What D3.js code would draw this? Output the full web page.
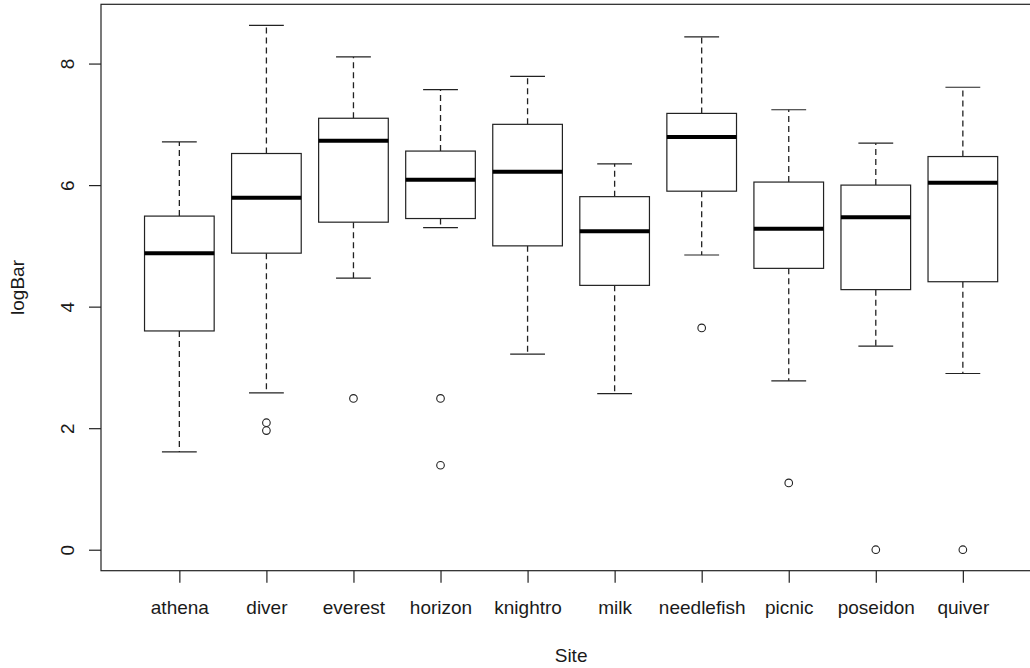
<!DOCTYPE html>
<html>
<head>
<meta charset="utf-8">
<script src="https://cdn.jsdelivr.net/npm/d3@7/dist/d3.min.js"></script>
<style>
  html, body { margin: 0; padding: 0; background: #fff; }
  svg { display: block; }
  text { font-family: "Liberation Sans", Arial, sans-serif; fill: #1a1a1a; }
</style>
</head>
<body>
<script>
// ---- data ----
const sites = ["athena","diver","everest","horizon","knightro","milk","needlefish","picnic","poseidon","quiver"];
const whiskerLow  = [1.61, 2.58, 4.47, 5.30, 3.22, 2.57, 4.85, 2.78, 3.35, 2.90];
const q1          = [3.60, 4.88, 5.39, 5.45, 5.00, 4.35, 5.90, 4.63, 4.28, 4.41];
const medians     = [4.88, 5.79, 6.73, 6.09, 6.22, 5.24, 6.79, 5.28, 5.47, 6.04];
const q3          = [5.49, 6.52, 7.10, 6.56, 7.00, 5.81, 7.18, 6.05, 6.00, 6.47];
const whiskerHigh = [6.71, 8.63, 8.11, 7.57, 7.79, 6.35, 8.44, 7.24, 6.69, 7.61];
const outliers    = [[], [2.09, 1.96], [2.49], [2.49, 1.39], [], [], [3.65], [1.10], [0], [0]];
const yTicks = [0, 2, 4, 6, 8];
const xTitle = "Site";
const yTitle = "logBar";

// ---- layout ----
const W = 1030, H = 668;
const svg = d3.select("body").append("svg").attr("width", W).attr("height", H);

const x = d3.scaleLinear().domain([0.1, 10.9]).range([101, 1041.2]);
const y = d3.scaleLinear().domain([-0.3452, 8.9752]).range([570.7, 4.3]);
const boxW = x(1.4) - x(1);      // half box width
const capW = boxW / 2;

// frame
svg.append("rect")
  .attr("x", x(0.1)).attr("y", y(8.9752))
  .attr("width", x(10.9) - x(0.1)).attr("height", y(-0.3452) - y(8.9752))
  .attr("fill", "none").attr("stroke", "#222").attr("stroke-width", 1.2);

// y axis
const yAxis = d3.axisLeft(y).tickValues(yTicks).tickSize(12).tickPadding(0).tickFormat(d3.format("d"));
const gy = svg.append("g").attr("transform", `translate(${x(0.1)},0)`).call(yAxis);
gy.select(".domain").remove();
gy.selectAll(".tick line").attr("stroke", "#222").attr("stroke-width", 1.2);
gy.selectAll(".tick text")
  .attr("x", 0).attr("dy", 0)
  .attr("transform", "translate(-27,0) rotate(-90)")
  .attr("text-anchor", "middle")
  .style("font-size", "19px").style("font-family", "Liberation Sans, Arial, sans-serif").attr("fill", "#1a1a1a");

// x axis
const xAxis = d3.axisBottom(x).tickValues(d3.range(1, sites.length + 1)).tickSize(12).tickPadding(0)
  .tickFormat((d) => sites[d - 1]);
const gx = svg.append("g").attr("transform", `translate(0,${y(-0.3452)})`).call(xAxis);
gx.select(".domain").remove();
gx.selectAll(".tick line").attr("stroke", "#222").attr("stroke-width", 1.2);
gx.selectAll(".tick text").attr("y", 43).attr("dy", 0)
  .style("font-size", "19px").style("font-family", "Liberation Sans, Arial, sans-serif").attr("fill", "#1a1a1a");

// titles
svg.append("text").attr("x", (x(0.1) + x(10.9)) / 2).attr("y", 662)
  .attr("text-anchor", "middle").style("font-size", "19px").text(xTitle);
svg.append("text").attr("transform", `translate(24,${(y(-0.3452) + y(8.9752)) / 2}) rotate(-90)`)
  .attr("text-anchor", "middle").style("font-size", "19px").text(yTitle);

// boxes
const data = sites.map((s, i) => ({
  s, i: i + 1, lo: whiskerLow[i], q1: q1[i], med: medians[i], q3: q3[i], hi: whiskerHigh[i], out: outliers[i]
}));

const g = svg.append("g");
const b = g.selectAll("g.box").data(data).enter().append("g").attr("class", "box");

// whiskers (dashed)
b.append("line").attr("x1", d => x(d.i)).attr("x2", d => x(d.i))
  .attr("y1", d => y(d.q3)).attr("y2", d => y(d.hi))
  .attr("stroke", "#222").attr("stroke-width", 1.3).attr("stroke-dasharray", "6,4");
b.append("line").attr("x1", d => x(d.i)).attr("x2", d => x(d.i))
  .attr("y1", d => y(d.q1)).attr("y2", d => y(d.lo))
  .attr("stroke", "#222").attr("stroke-width", 1.3).attr("stroke-dasharray", "6,4");
// caps
b.append("line").attr("x1", d => x(d.i) - capW).attr("x2", d => x(d.i) + capW)
  .attr("y1", d => y(d.hi)).attr("y2", d => y(d.hi))
  .attr("stroke", "#222").attr("stroke-width", 1.2);
b.append("line").attr("x1", d => x(d.i) - capW).attr("x2", d => x(d.i) + capW)
  .attr("y1", d => y(d.lo)).attr("y2", d => y(d.lo))
  .attr("stroke", "#222").attr("stroke-width", 1.2);
// box
b.append("rect").attr("x", d => x(d.i) - boxW).attr("width", 2 * boxW)
  .attr("y", d => y(d.q3)).attr("height", d => y(d.q1) - y(d.q3))
  .attr("fill", "#fff").attr("stroke", "#222").attr("stroke-width", 1.2);
// median
b.append("line").attr("x1", d => x(d.i) - boxW).attr("x2", d => x(d.i) + boxW)
  .attr("y1", d => y(d.med)).attr("y2", d => y(d.med))
  .attr("stroke", "#000").attr("stroke-width", 4);
// outliers
b.selectAll("circle").data(d => d.out.map(v => ({ i: d.i, v }))).enter().append("circle")
  .attr("cx", d => x(d.i)).attr("cy", d => y(d.v)).attr("r", 3.8)
  .attr("fill", "none").attr("stroke", "#222").attr("stroke-width", 1.1);
</script>
</body>
</html>
